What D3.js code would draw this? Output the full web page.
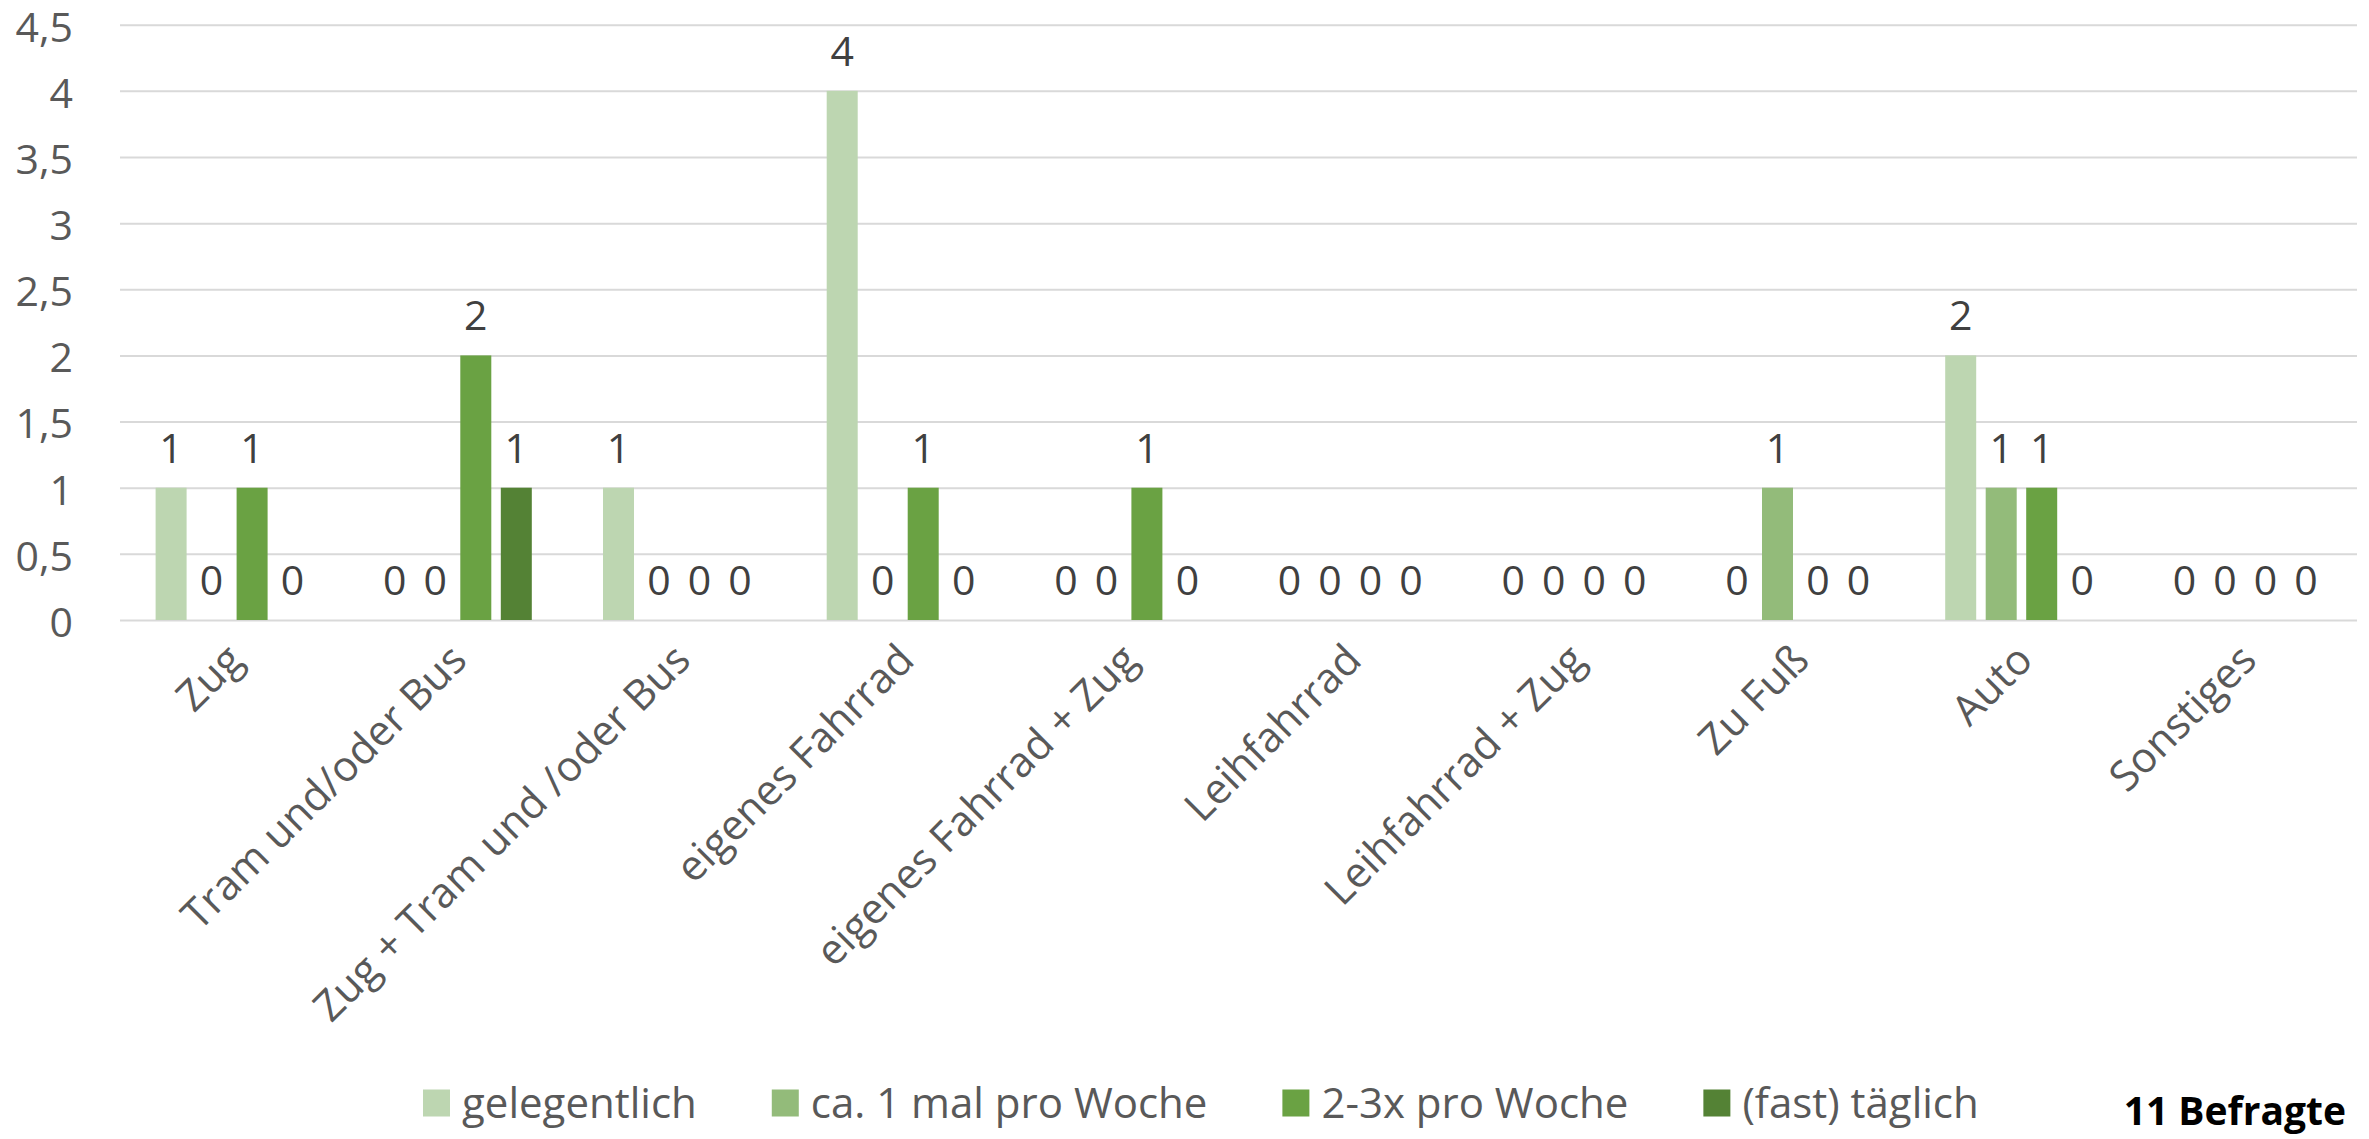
<!DOCTYPE html>
<html>
<head>
<meta charset="utf-8">
<script src="https://cdn.jsdelivr.net/npm/d3@7"></script>
<style>
  html, body { margin: 0; padding: 0; background: #ffffff; }
  svg { display: block; }
  text { font-family: "Open Sans", sans-serif; }
</style>
</head>
<body>
<svg id="chart" width="2369" height="1139"></svg>
<script>
// ---- data ----
const categories = [
  "Zug",
  "Tram und/oder Bus",
  "Zug + Tram und /oder Bus",
  "eigenes Fahrrad",
  "eigenes Fahrrad + Zug",
  "Leihfahrrad",
  "Leihfahrrad + Zug",
  "Zu Fuß",
  "Auto",
  "Sonstiges"
];
const seriesNames = ["gelegentlich", "ca. 1 mal pro Woche", "2-3x pro Woche", "(fast) täglich"];
const gelegentlich   = [1, 0, 1, 4, 0, 0, 0, 0, 2, 0];
const einmalProWoche = [0, 0, 0, 0, 0, 0, 0, 1, 1, 0];
const zweiDreiProWoche = [1, 2, 0, 1, 1, 0, 0, 0, 1, 0];
const fastTaeglich   = [0, 1, 0, 0, 0, 0, 0, 0, 0, 0];
const seriesValues = [gelegentlich, einmalProWoche, zweiDreiProWoche, fastTaeglich];
const seriesColors = ["#bdd6b1", "#93bb7a", "#6aa243", "#548235"];
const yTicks = [0, 0.5, 1, 1.5, 2, 2.5, 3, 3.5, 4, 4.5];
const note = "11 Befragte";

// ---- layout ----
(function () {
const svg = d3.select("#chart");
const mLeft = 120, mRight = 2357, mTop = 24.7, mBottom = 620;
const de = d3.formatLocale({decimal: ",", thousands: ".", grouping: [3], currency: ["", "€"]});
const fmt = de.format("~g");

const x0 = d3.scaleBand().domain(categories).range([mLeft, mRight]).paddingInner(0).paddingOuter(0);
const x1 = d3.scaleBand().domain(seriesNames).range([0, x0.bandwidth()]).paddingInner(0.2346).paddingOuter(0.879);
const y = d3.scaleLinear().domain([0, 4.5]).range([mBottom, mTop]);

// gridlines + y labels
const yAxis = svg.append("g")
  .attr("transform", `translate(${mLeft},0)`)
  .call(d3.axisLeft(y).tickValues(yTicks).tickFormat(fmt).tickSize(-(mRight - mLeft)).tickPadding(47));
yAxis.select(".domain").remove();
yAxis.selectAll(".tick line").attr("stroke", "#d9d9d9").attr("stroke-width", 2);
yAxis.selectAll(".tick text")
  .attr("fill", "#595959")
  .style("font-size", "41px")
  .style("font-family", "'Open Sans', sans-serif")
  .attr("dy", "0.40em");

// bars
const groups = svg.append("g").selectAll("g")
  .data(categories)
  .join("g")
  .attr("transform", d => `translate(${x0(d)},0)`);

const cells = groups.selectAll("g.cell")
  .data((c, ci) => seriesNames.map((s, si) => ({s, si, v: seriesValues[si][ci]})))
  .join("g").attr("class", "cell");

cells.append("rect")
  .attr("x", d => x1(d.s))
  .attr("width", x1.bandwidth())
  .attr("y", d => y(d.v))
  .attr("height", d => y(0) - y(d.v))
  .attr("fill", d => seriesColors[d.si]);

cells.append("text")
  .attr("x", d => x1(d.s) + x1.bandwidth() / 2)
  .attr("y", d => y(d.v) - 25)
  .attr("text-anchor", "middle")
  .attr("fill", "#404040")
  .style("font-size", "41px")
  .text(d => fmt(d.v));

// x axis labels
const xAxis = svg.append("g")
  .attr("transform", `translate(0,${mBottom})`)
  .call(d3.axisBottom(x0).tickSize(0).tickPadding(0));
xAxis.select(".domain").remove();
xAxis.selectAll(".tick text")
  .attr("fill", "#595959")
  .style("font-size", "42px")
  .style("font-family", "'Open Sans', sans-serif")
  .attr("text-anchor", "end")
  .attr("x", 0).attr("y", 0).attr("dy", "0.35em")
  .attr("transform", "translate(3,32) rotate(-45)");

// legend
const legend = svg.append("g").attr("transform", "translate(423,1103)");
let lx = 0;
seriesNames.forEach((s, i) => {
  const g = legend.append("g").attr("transform", `translate(${lx},0)`);
  g.append("rect").attr("x", 0).attr("y", -13.5).attr("width", 27).attr("height", 27).attr("fill", seriesColors[i]);
  const t = g.append("text").attr("x", 39).attr("y", 0).attr("dy", "0.35em")
    .attr("fill", "#595959").style("font-size", "42px").text(s);
  lx += 39 + t.node().getComputedTextLength() + 75;
});

// note
svg.append("text")
  .attr("x", 2346).attr("y", 1125)
  .attr("text-anchor", "end")
  .attr("fill", "#000000")
  .style("font-size", "39px")
  .style("font-weight", "bold")
  .text(note);
})();
</script>
</body>
</html>
